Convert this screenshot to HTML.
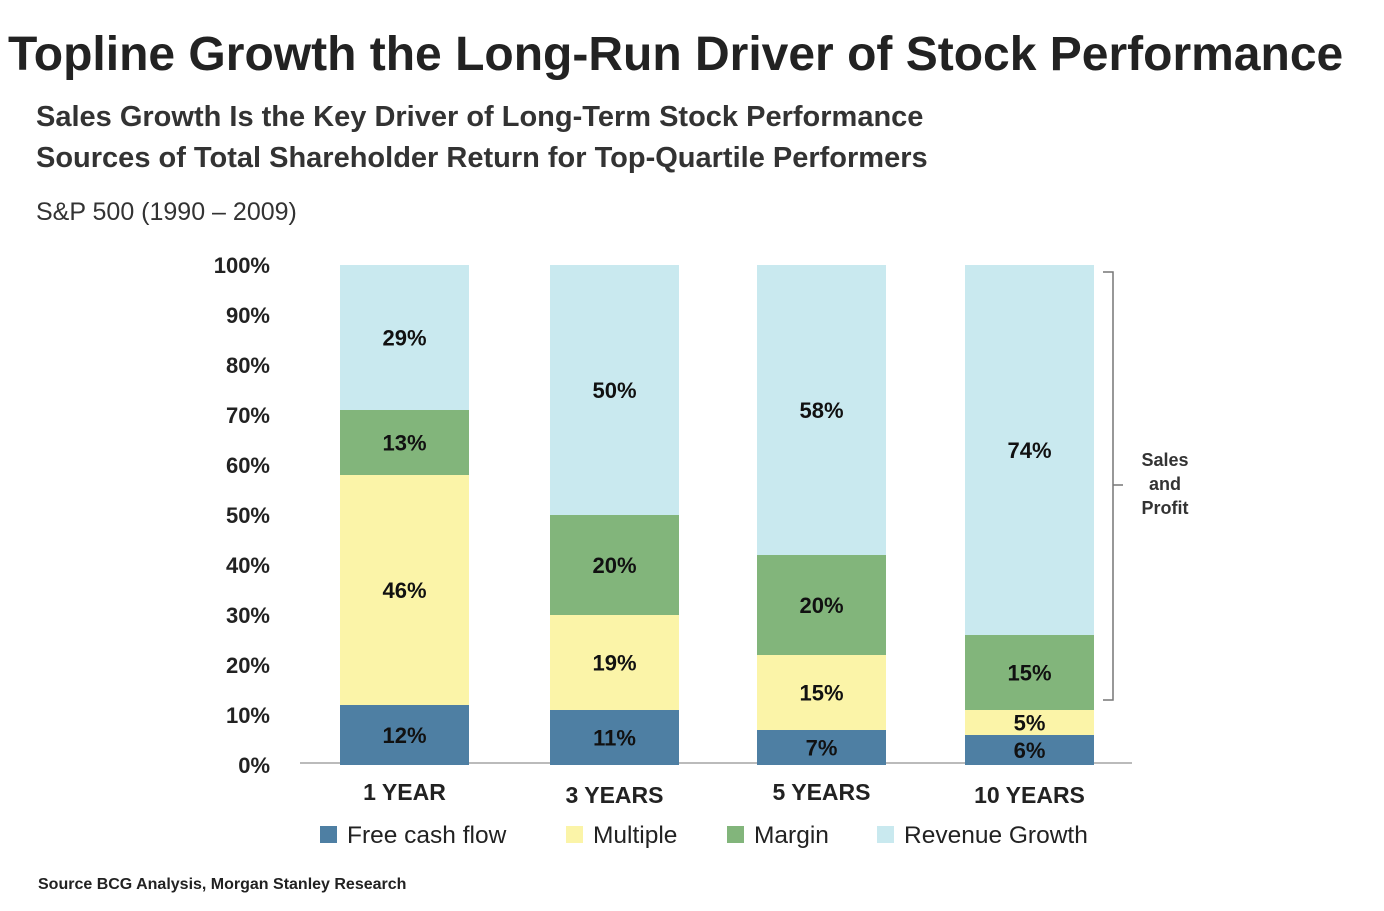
<!DOCTYPE html>
<html><head><meta charset="utf-8"><style>
body{margin:0;width:1384px;height:906px;background:#fff;overflow:hidden;font-family:"Liberation Sans",sans-serif}
</style></head><body>
<svg width="1384" height="906" xmlns="http://www.w3.org/2000/svg">
<text x="8" y="70" font-size="48" font-weight="bold" fill="#222">Topline Growth the Long-Run Driver of Stock Performance</text>
<text x="36" y="126" font-size="29" font-weight="bold" fill="#333">Sales Growth Is the Key Driver of Long-Term Stock Performance</text>
<text x="36" y="167" font-size="29" font-weight="bold" fill="#333">Sources of Total Shareholder Return for Top-Quartile Performers</text>
<text x="36" y="220" font-size="25" fill="#333">S&amp;P 500 (1990 – 2009)</text>
<g id="yaxis"></g>
<line x1="300" y1="763" x2="1132" y2="763" stroke="#bbb" stroke-width="2"/>
<g id="bars"></g>
<g id="xlabels"></g>
<path d="M1103 272 H1113 V700 H1103 M1113 485 H1123" fill="none" stroke="#777" stroke-width="1.5"/>
<text font-size="18" font-weight="bold" fill="#333" text-anchor="middle"><tspan x="1165" y="466">Sales</tspan><tspan x="1165" y="490">and</tspan><tspan x="1165" y="514">Profit</tspan></text>
<g id="legend"></g>
<text x="38" y="889" font-size="16" font-weight="bold" fill="#222">Source  BCG Analysis, Morgan Stanley Research</text>
</svg>
<script>
const categories=["1 YEAR","3 YEARS","5 YEARS","10 YEARS"];
const seriesNames=["Free cash flow","Multiple","Margin","Revenue Growth"];
const freeCashFlow=[12,11,7,6];
const multiple=[46,19,15,5];
const margin=[13,20,20,15];
const revenueGrowth=[29,50,58,74];
const yTicks=[0,10,20,30,40,50,60,70,80,90,100];
const colors=["#4e7fa3","#fbf4a8","#82b57b","#c9e9ef"];
const NS="http://www.w3.org/2000/svg";
const y=v=>765-v*5;
const barX=[340,550,757,965],barW=129;
function mk(t,a,p){const e=document.createElementNS(NS,t);for(const k in a)e.setAttribute(k,a[k]);p.appendChild(e);return e;}
const ya=document.getElementById('yaxis');
yTicks.forEach(v=>{const t=mk('text',{x:270,y:y(v)+8,'font-size':22,'font-weight':'bold','text-anchor':'end',fill:'#222'},ya);t.textContent=v+'%';

});
const series=[freeCashFlow,multiple,margin,revenueGrowth];
const bars=document.getElementById('bars');
categories.forEach((c,i)=>{let base=0;series.forEach((s,j)=>{const v=s[i];
const r=mk('rect',{x:barX[i],y:y(base+v),width:barW,height:v*5,fill:colors[j]},bars);


const t=mk('text',{x:barX[i]+barW/2,y:y(base+v/2)+8,'font-size':22,'font-weight':'bold','text-anchor':'middle',fill:'#111'},bars);t.textContent=v+'%';


base+=v;});
const l=mk('text',{x:barX[i]+barW/2,y:i%2?803:800,'font-size':23,'font-weight':'bold','text-anchor':'middle',fill:'#222'},document.getElementById('xlabels'));l.textContent=c;

});
const lg=document.getElementById('legend');const lx=[320,566,727,877];
seriesNames.forEach((n,j)=>{const r=mk('rect',{x:lx[j],y:826,width:17,height:17,fill:colors[j]},lg);


const t=mk('text',{x:lx[j]+27,y:843,'font-size':24.5,fill:'#222'},lg);t.textContent=n;

});
</script>
</body></html>
